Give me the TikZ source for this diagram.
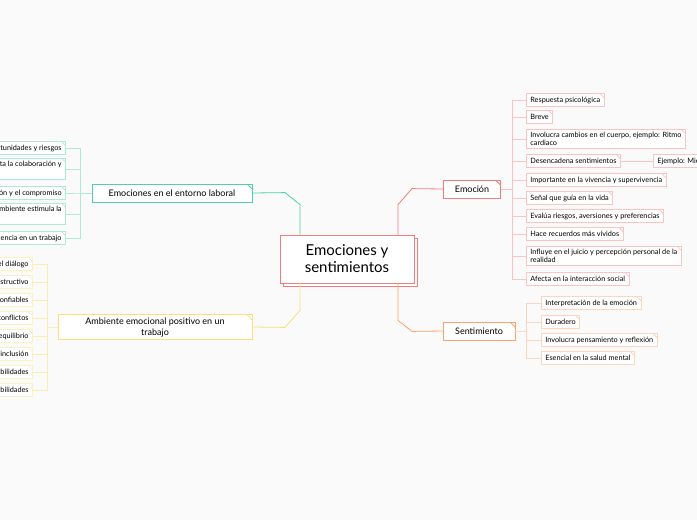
\documentclass[tikz,border=0pt]{standalone}
\usepackage{fontspec}
\setmainfont{Lato}
\definecolor{emored}{HTML}{F47C7C}
\definecolor{senor}{HTML}{F9A46E}
\definecolor{labteal}{HTML}{4FD1A5}
\definecolor{ambyel}{HTML}{F5E27A}
\begin{document}
\begin{tikzpicture}[x=1pt, y=-1pt, line width=0.8pt,
  every node/.style={rectangle, align=left, inner xsep=4pt, inner ysep=2.5pt, fill=white},
  leaf/.style={draw=#1!45, font=\fontsize{7.3}{8.6}\selectfont, minimum height=12.5pt,
    path picture={\draw[#1!45] ([xshift=-4pt]path picture bounding box.north east) -- ([yshift=-4pt]path picture bounding box.north east);}},
  main/.style={draw=#1, font=\fontsize{9}{11}\selectfont, minimum height=18pt,
    path picture={\draw[#1] ([xshift=-5pt]path picture bounding box.north east) -- ([yshift=-5pt]path picture bounding box.north east);}}]
  \clip (0,0) rectangle (697,520);
  \fill[black!2] (0,0) rectangle (697,520);

  % centre
  \node[draw=emored, fill=white, minimum width=134pt, minimum height=48pt] at (350,262) {};
  \node[draw=emored, minimum width=134pt, minimum height=48pt, align=center, font=\fontsize{15}{17}\selectfont] (root) at (347,259) {Emociones y\\sentimientos};

  % main branches
  \node[main=emored, minimum width=57pt, align=center] (emo) at (472,189) {Emoción};
  \node[main=senor, minimum width=72pt, align=center] (sen) at (479,331) {Sentimiento};
  \node[main=labteal, minimum width=160pt, align=center] (lab) at (172,193) {Emociones en el entorno laboral};
  \node[main=ambyel, minimum width=194pt, align=center] (amb) at (155,327) {Ambiente emocional positivo en un\\trabajo};

  \draw[emored] ([xshift=51pt]root.north) -- ++(0,-30) -- ++(14,-16) -- (emo.west);
  \draw[senor] ([xshift=51pt]root.south) -- ++(0,37) -- ++(14,11) -- (sen.west);
  \draw[labteal] ([xshift=-47pt]root.north) -- ++(0,-30) -- ++(-15,-12) -- (lab.east);
  \draw[ambyel] ([xshift=-47pt]root.south) -- ++(0,27) -- ++(-15,17) -- (amb.east);

  % Emocion
  \node[leaf=emored, anchor=west] (e1) at (526,100) {Respuesta psicológica};
  \node[leaf=emored, anchor=west] (e2) at (526,117) {Breve};
  \node[leaf=emored, anchor=west] (e3) at (526,139) {Involucra cambios en el cuerpo, ejemplo: Ritmo\\cardiaco};
  \node[leaf=emored, anchor=west] (e4) at (526,161) {Desencadena sentimientos};
  \node[leaf=emored, anchor=west] (e4a) at (653,161) {Ejemplo: Miedo};
  \node[leaf=emored, anchor=west] (e5) at (526,180) {Importante en la vivencia y supervivencia};
  \node[leaf=emored, anchor=west] (e6) at (526,198) {Señal que guía en la vida};
  \node[leaf=emored, anchor=west] (e7) at (526,216) {Evalúa riesgos, aversiones y preferencias};
  \node[leaf=emored, anchor=west] (e8) at (526,234) {Hace recuerdos más vívidos};
  \node[leaf=emored, anchor=west] (e9) at (526,256) {Influye en el juicio y percepción personal de la\\realidad};
  \node[leaf=emored, anchor=west] (e10) at (526,279) {Afecta en la interacción social};
  \foreach \c in {e1,e2,e3,e4,e5,e6,e7,e8,e9,e10}
    \draw[emored!45] (emo.east) -- ++(11,0) |- (\c.west);
  \draw[emored!45] (e4.east) -- (e4a.west);

  % Sentimiento
  \node[leaf=senor, anchor=west] (s1) at (541,303) {Interpretación de la emoción};
  \node[leaf=senor, anchor=west] (s2) at (541,322) {Duradero};
  \node[leaf=senor, anchor=west] (s3) at (541,340) {Involucra pensamiento y reflexión};
  \node[leaf=senor, anchor=west] (s4) at (541,358) {Esencial en la salud mental};
  \foreach \c in {s1,s2,s3,s4}
    \draw[senor!45] (sen.east) -- ++(11,0) |- (\c.west);

  % entorno laboral
  \node[leaf=labteal, anchor=east] (l1) at (66,148) {Oportunidades y riesgos};
  \node[leaf=labteal, anchor=east] (l2) at (66,169) {Fomenta la colaboración y\\\strut};
  \node[leaf=labteal, anchor=east] (l3) at (66,193) {Aumenta la motivación y el compromiso};
  \node[leaf=labteal, anchor=east] (l4) at (66,214) {Un buen ambiente estimula la\\\strut};
  \node[leaf=labteal, anchor=east] (l5) at (66,238) {Mejora la eficiencia en un trabajo};
  \foreach \c in {l1,l2,l3,l4,l5}
    \draw[labteal!45] (lab.west) -- ++(-11,0) |- (\c.east);

  % ambiente positivo
  \node[leaf=ambyel, anchor=east] (a1) at (33,264) {Fomenta el diálogo};
  \node[leaf=ambyel, anchor=east] (a2) at (33,282) {Feedback constructivo};
  \node[leaf=ambyel, anchor=east] (a3) at (33,300) {Líderes confiables};
  \node[leaf=ambyel, anchor=east] (a4) at (33,318) {Resolución de conflictos};
  \node[leaf=ambyel, anchor=east] (a5) at (33,336) {Buen equilibrio};
  \node[leaf=ambyel, anchor=east] (a6) at (33,354) {Fomenta la inclusión};
  \node[leaf=ambyel, anchor=east] (a7) at (33,372) {Flexibilidades};
  \node[leaf=ambyel, anchor=east] (a8) at (33,390) {Responsabilidades};
  \foreach \c in {a1,a2,a3,a4,a5,a6,a7,a8}
    \draw[ambyel!60] (amb.west) -- ++(-10,0) |- (\c.east);
\end{tikzpicture}
\end{document}
